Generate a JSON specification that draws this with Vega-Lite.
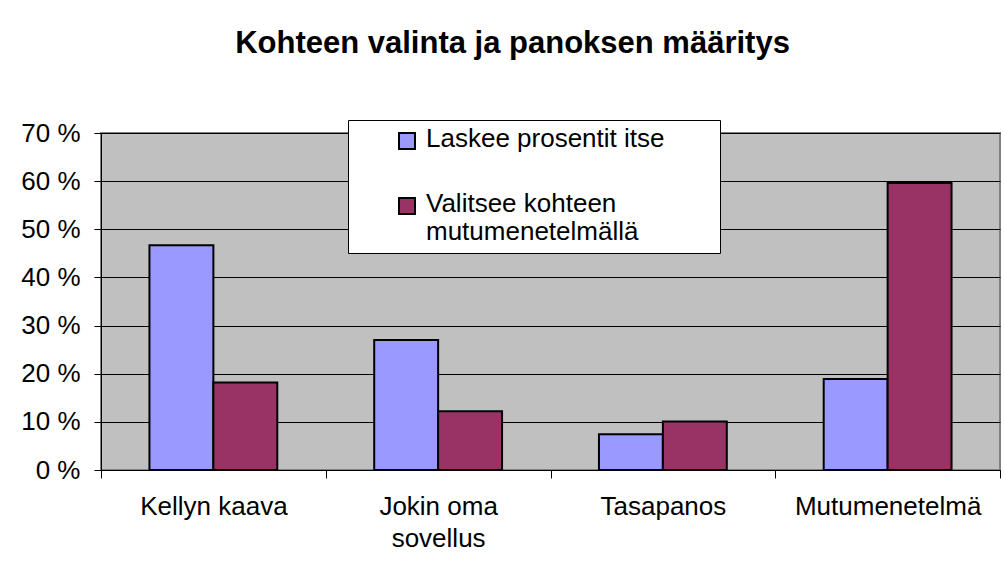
{
  "$schema": "https://vega.github.io/schema/vega-lite/v6.json",
  "width": 899,
  "height": 337,
  "autosize": {"type": "none"},
  "padding": {"left": 101, "top": 133, "right": 5, "bottom": 99},
  "background": "white",
  "title": {
    "text": "Kohteen valinta ja panoksen määritys",
    "font": "Liberation Sans",
    "fontSize": 31,
    "fontWeight": "bold",
    "color": "#000000",
    "anchor": "middle",
    "dx": -38,
    "offset": 60
  },
  "data": {
    "values": [
      {"category": "Kellyn kaava", "series": "Laskee prosentit itse", "value": 46.7},
      {"category": "Kellyn kaava", "series": "Valitsee kohteen mutumenetelmällä", "value": 18.2},
      {"category": "Jokin oma sovellus", "series": "Laskee prosentit itse", "value": 27.0},
      {"category": "Jokin oma sovellus", "series": "Valitsee kohteen mutumenetelmällä", "value": 12.2},
      {"category": "Tasapanos", "series": "Laskee prosentit itse", "value": 7.4},
      {"category": "Tasapanos", "series": "Valitsee kohteen mutumenetelmällä", "value": 10.1},
      {"category": "Mutumenetelmä", "series": "Laskee prosentit itse", "value": 18.9},
      {"category": "Mutumenetelmä", "series": "Valitsee kohteen mutumenetelmällä", "value": 59.6}
    ]
  },
  "mark": {"type": "bar", "stroke": "#000000", "strokeWidth": 2},
  "encoding": {
    "x": {
      "field": "category",
      "type": "nominal",
      "sort": ["Kellyn kaava", "Jokin oma sovellus", "Tasapanos", "Mutumenetelmä"],
      "scale": {"paddingInner": 0, "paddingOuter": 0},
      "axis": {
        "title": null,
        "labelAngle": 0,
        "labelFont": "Liberation Sans",
        "labelFontSize": 26,
        "labelColor": "#000000",
        "labelLineHeight": 32,
        "labelPadding": 15,
        "labelBaseline": "top",
        "labelLimit": 400,
        "labelOverlap": false,
        "tickBand": "extent",
        "tickSize": 8,
        "tickColor": "#000000",
        "domainColor": "#000000",
        "domainWidth": 1,
        "labelExpr": "datum.label == 'Jokin oma sovellus' ? ['Jokin oma', 'sovellus'] : datum.label"
      }
    },
    "xOffset": {
      "field": "series",
      "type": "nominal",
      "scale": {"paddingInner": 0, "paddingOuter": 0.758}
    },
    "y": {
      "field": "value",
      "type": "quantitative",
      "scale": {"domain": [0, 70], "nice": false},
      "axis": {
        "title": null,
        "values": [0, 10, 20, 30, 40, 50, 60, 70],
        "labelExpr": "datum.value + ' %'",
        "labelFont": "Liberation Sans",
        "labelFontSize": 26,
        "labelColor": "#000000",
        "labelPadding": 14,
        "tickSize": 7,
        "tickColor": "#000000",
        "domainColor": "#000000",
        "grid": true,
        "gridColor": "#000000",
        "gridWidth": 1
      }
    },
    "color": {
      "field": "series",
      "type": "nominal",
      "scale": {"range": ["#9999FF", "#993366"]},
      "legend": {
        "title": " ",
        "titleOrient": "right",
        "titleFontSize": 1,
        "titlePadding": 48,
        "orient": "none",
        "legendX": 247,
        "legendY": -13,
        "direction": "vertical",
        "fillColor": "#FFFFFF",
        "strokeColor": "#000000",
        "padding": 8,
        "symbolType": "square",
        "symbolSize": 256,
        "symbolStrokeColor": "#000000",
        "symbolStrokeWidth": 2,
        "symbolOpacity": 1,
        "symbolOffset": 38,
        "labelFont": "Liberation Sans",
        "labelFontSize": 26,
        "labelColor": "#000000",
        "labelLimit": 400,
        "labelOffset": 6,
        "labelLineHeight": 36,
        "rowPadding": 38,
        "labelBaseline": "top",
        "labelExpr": "datum.label == 'Valitsee kohteen mutumenetelmällä' ? ['Valitsee kohteen', 'mutumenetelmällä'] : datum.label",
        "encode": {"labels": {"update": {"dy": {"value": -15}}}}
      }
    }
  },
  "config": {
    "view": {"fill": "#C0C0C0", "stroke": "#808080", "strokeWidth": 2}
  }
}
